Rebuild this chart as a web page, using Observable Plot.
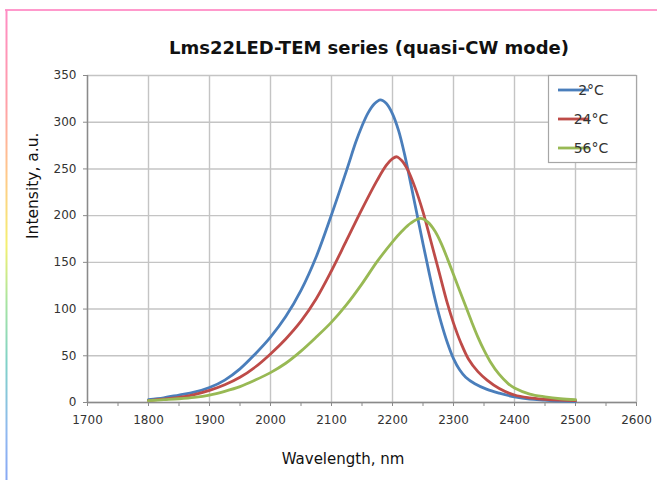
<!DOCTYPE html>
<html>
<head>
<meta charset="utf-8">
<script src="https://cdn.jsdelivr.net/npm/d3@7"></script>
<script src="https://cdn.jsdelivr.net/npm/@observablehq/plot@0.6"></script>
<style>
  html, body { margin: 0; padding: 0; background: #fff; }
  svg { display: block; }
</style>
</head>
<body>
<div id="chart"></div>
<script>
// ---- data ----
const seriesNames = ["2°C", "24°C", "56°C"];
const seriesColors = ["#4a7ebb", "#be4b48", "#98b954"];

const wl2  = [1800, 1825, 1850, 1875, 1900, 1925, 1950, 1975, 2000, 2025, 2050, 2075, 2100, 2125,
              2140, 2150, 2160, 2170, 2180, 2190, 2200, 2210, 2220, 2230, 2240, 2250, 2260, 2270, 2280, 2290, 2300, 2310, 2320,
              2335, 2355, 2375, 2400, 2425, 2450, 2475, 2500];
const int2 = [   3,    5,    8,   11,   16,   24,   36,   52,   70,   92,  120,  156,  201,  249,
               279,  296,  310, 319.5, 324,  320,  309,  291,  265,  234,  202,  170,  139,  110,   85,   64,   47,   35,   27,
                20,   14,   10,    6,  3.5,  2.5,  1.5,    1];

const wl24  = [1800, 1825, 1850, 1875, 1900, 1925, 1950, 1975, 2000, 2025, 2050, 2075, 2100, 2125, 2150, 2175,
               2190, 2200, 2207, 2215, 2225, 2237, 2250, 2262, 2275, 2290, 2300, 2312, 2325, 2340, 2355, 2375, 2400, 2425, 2450, 2475, 2500];
const int24 = [   2,  3.5,  5.5,  8.5,   13,   19,   27,   38,   52,   68,   87,  111,  141,  174,  207,  238,
                254,  261,  263,  259,  249,  230,  204,  175,  143,  106,   85,   64,   46,   33,   24,   15,    8,    5,  3.5,  2.5,    2];

const wl56  = [1800, 1825, 1850, 1875, 1900, 1925, 1950, 1975, 2000, 2025, 2050, 2075, 2100, 2125, 2150, 2175, 2200,
               2215, 2230, 2246, 2258, 2270, 2280, 2290, 2300, 2310, 2320, 2330, 2340, 2350, 2360, 2375, 2390, 2400, 2425, 2450, 2475, 2500];
const int56 = [   2,    3,    4,  5.5,    8,   12,   17,   24,   32,   42,   55,   70,   86,  105,  127,  151,  172,
                183,  192,  197,  193,  183,  170,  154,  137,  120,  103,   86,   70,   56,   44,   30,   20, 15.5,    9,    6,    4,    3];

const xTicks = [1700, 1800, 1900, 2000, 2100, 2200, 2300, 2400, 2500, 2600];
const xMinor = [1750, 1850, 1950, 2050, 2150, 2250, 2350, 2450, 2550];
const yTicks = [0, 50, 100, 150, 200, 250, 300, 350];

const titleText = "Lms22LED-TEM series (quasi-CW mode)";
const xLabel = "Wavelength, nm";
const yLabel = "Intensity, a.u.";

// ---- build table ----
const rows = [];
[[wl2, int2], [wl24, int24], [wl56, int56]].forEach(([w, v], i) => {
  w.forEach((x, j) => rows.push({ series: seriesNames[i], wl: x, val: v[j] }));
});

const FONT = "DejaVu Sans";
const gridColor = "#c4c4c4";
const axisColor = "#8a8a8a";
const textColor = "#333333";

const chart = Plot.plot({
  width: 657,
  height: 480,
  marginLeft: 87,
  marginRight: 21,
  marginTop: 75,
  marginBottom: 78,
  style: { fontFamily: FONT, fontSize: "12px", color: textColor, background: "#fff" },
  x: { domain: [1700, 2600] },
  y: { domain: [0, 350] },
  color: { domain: seriesNames, range: seriesColors },
  marks: [
    Plot.gridX(xTicks, { stroke: gridColor, strokeOpacity: 1, strokeWidth: 1.4 }),
    Plot.gridY(yTicks, { stroke: gridColor, strokeOpacity: 1, strokeWidth: 1.4 }),
    Plot.ruleY([0], { stroke: axisColor, strokeWidth: 1.4 }),
    Plot.ruleX([1700], { stroke: axisColor, strokeWidth: 1.4 }),
    Plot.axisX(xTicks, { tickSize: 4, tickPadding: 9, tickFormat: d => String(d), stroke: axisColor, fill: textColor, fontSize: 12, label: null }),
    Plot.axisX(xMinor, { tickSize: 4, text: null, stroke: axisColor, label: null }),
    Plot.axisY(yTicks, { tickSize: 4, tickPadding: 7, tickFormat: d => String(d), stroke: axisColor, fill: textColor, fontSize: 12, label: null }),
    Plot.line(rows, { x: "wl", y: "val", z: "series", stroke: "series", strokeWidth: 2.8, curve: "catmull-rom" }),
    Plot.text([titleText], { frameAnchor: "top", dx: 7, dy: -34, fontSize: 18, fontWeight: "bold", fill: "#111", fontFamily: FONT }),
    Plot.text([yLabel], { frameAnchor: "left", dx: -54, rotate: -90, fontSize: 15.5, fill: "#111", fontFamily: FONT }),
    Plot.text([xLabel], { frameAnchor: "bottom", dx: -19, dy: 61, fontSize: 15, fill: "#111", fontFamily: FONT })
  ]
});

// ---- decorations: legend and outer frame ----
const svg = d3.select(chart);

const defs = svg.append("defs");
const grad = defs.append("linearGradient").attr("id", "edgeGrad")
  .attr("x1", 0).attr("y1", 0).attr("x2", 0).attr("y2", 1);
[["0%", "#ff8cc4"], ["20%", "#ffa0a8"], ["35%", "#ffc88a"], ["50%", "#f4f070"], ["62%", "#a8e4a0"], ["75%", "#80d2c8"], ["90%", "#90b8f0"], ["100%", "#88a8f4"]]
  .forEach(([o, c]) => grad.append("stop").attr("offset", o).attr("stop-color", c));

svg.append("line").attr("x1", 5).attr("x2", 657).attr("y1", 10).attr("y2", 10)
  .attr("stroke", "#ff99cc").attr("stroke-width", 2);
svg.append("rect").attr("x", 5.5).attr("y", 10).attr("width", 2).attr("height", 470)
  .attr("fill", "url(#edgeGrad)");

const lg = svg.append("g").attr("font-family", FONT).attr("font-size", 14);
lg.append("rect").attr("x", 548.5).attr("y", 75.5).attr("width", 88).attr("height", 87)
  .attr("fill", "#fff").attr("stroke", "#a6a6a6").attr("stroke-width", 1.2);
seriesNames.forEach((name, i) => {
  const yy = 90 + i * 29;
  lg.append("line").attr("x1", 558).attr("x2", 589).attr("y1", yy).attr("y2", yy)
    .attr("stroke", seriesColors[i]).attr("stroke-width", 2.8);
  lg.append("text").attr("x", 591).attr("y", yy).attr("dy", "0.36em")
    .attr("fill", textColor).text(name);
});

document.getElementById("chart").appendChild(chart);
</script>
</body>
</html>
